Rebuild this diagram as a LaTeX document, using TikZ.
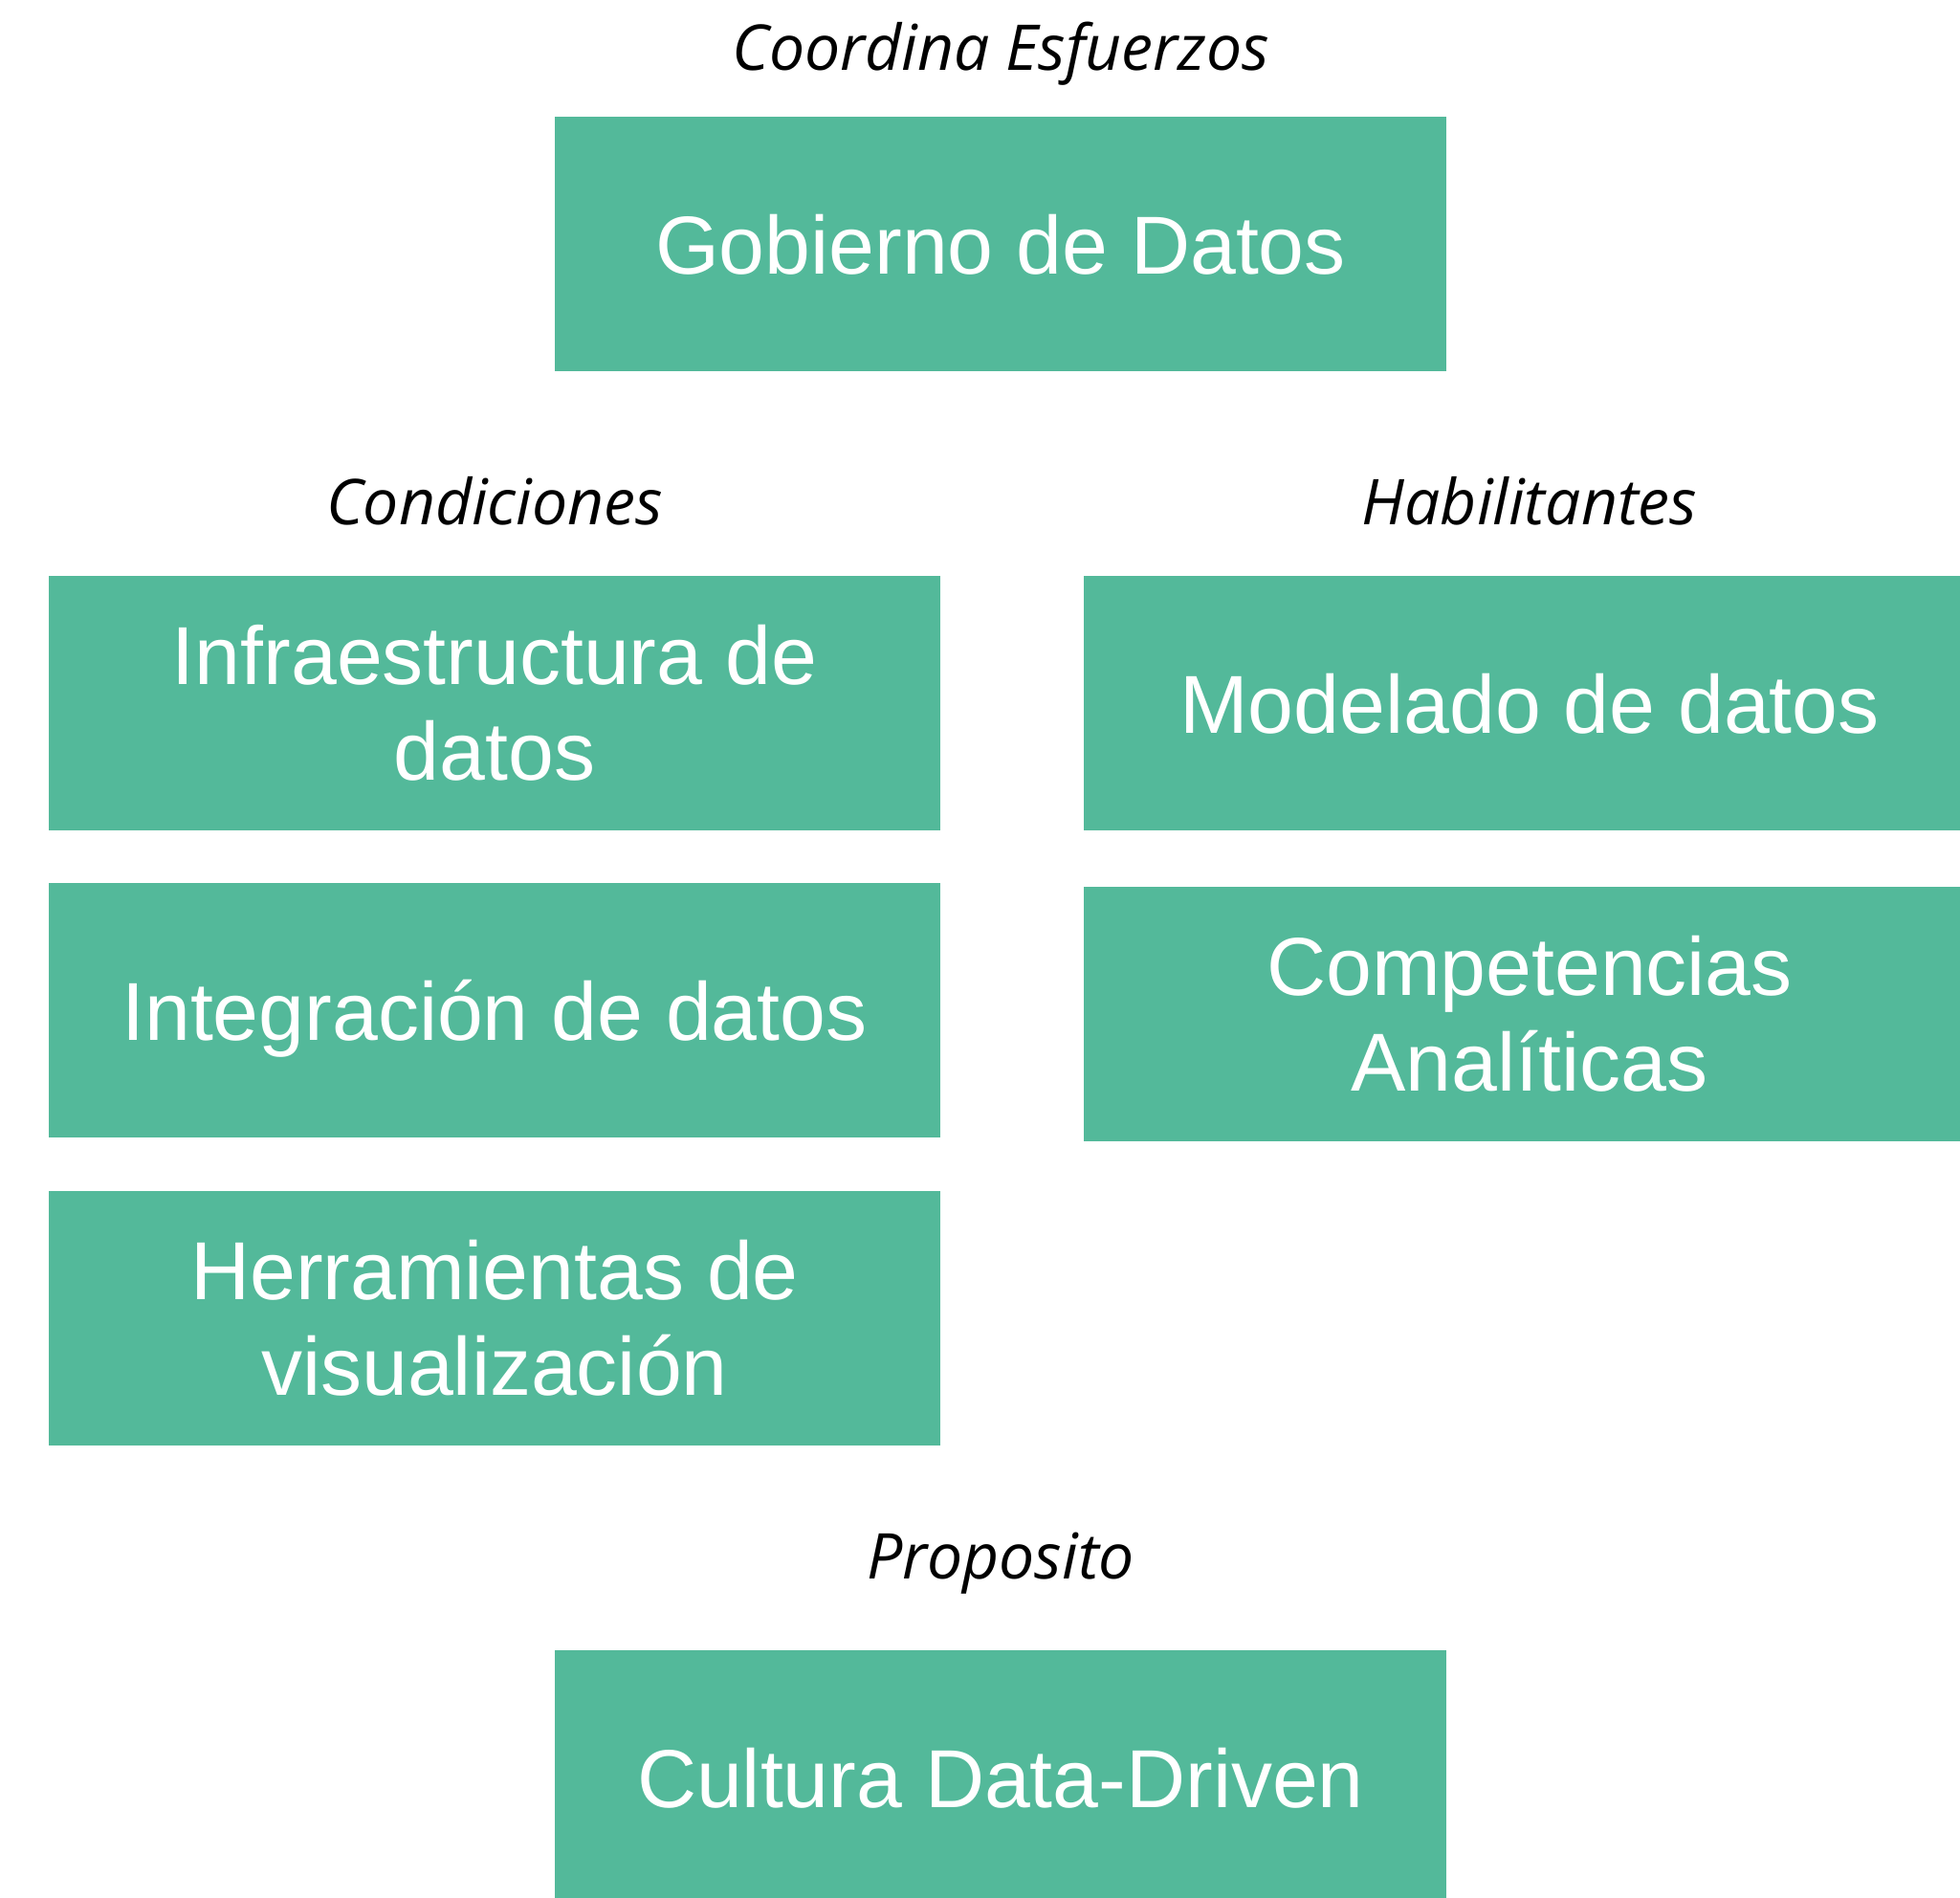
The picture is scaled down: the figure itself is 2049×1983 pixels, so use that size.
\documentclass[tikz,border=0pt]{standalone}
\usepackage{fontspec}
\setmainfont{Liberation Sans}
\newfontfamily\labelfont{Open Sans}
\usepackage{tikz}
\usetikzlibrary{positioning}

\definecolor{boxgreen}{RGB}{83,185,154}

\tikzset{
    pillar/.style={fill=boxgreen, text=white, inner sep=0pt,
        minimum width=466pt, minimum height=133pt, align=center,
        font=\fontsize{43}{50}\selectfont},
    oneline/.style={pillar, text height=31pt, text depth=0pt},
    tag/.style={font=\labelfont\itshape\fontsize{33}{40}\selectfont}
}

\begin{document}
\begin{tikzpicture}[x=0.5pt, y=-0.5pt]
    \useasboundingbox (0, 0) rectangle (2049, 1983);
    \clip (0, 0) rectangle (2049, 1983);

    % Top: governance
    \node[tag] (coordina) at (1046, 56) {Coordina Esfuerzos};
    \node[oneline] (gobierno) at (1046, 255) {Gobierno de Datos};

    % Left column
    \node[tag] (condiciones) at (517, 524) {Condiciones};
    \node[pillar] (infra) at (517, 735) {Infraestructura de\\datos};
    \node[oneline] (integra) at (517, 1056) {Integración de datos};
    \node[pillar] (herram) at (517, 1378) {Herramientas de\\visualización};

    % Right column
    \node[tag] (habilitantes) at (1599, 524) {Habilitantes};
    \node[oneline] (modelado) at (1599, 735) {Modelado de datos};
    \node[pillar] (compet) at (1599, 1060) {Competencias\\Analíticas};

    % Bottom: purpose
    \node[tag] (proposito) at (1046, 1634) {Proposito};
    \node[oneline] (cultura) at (1046, 1858) {Cultura Data-Driven};
\end{tikzpicture}
\end{document}
